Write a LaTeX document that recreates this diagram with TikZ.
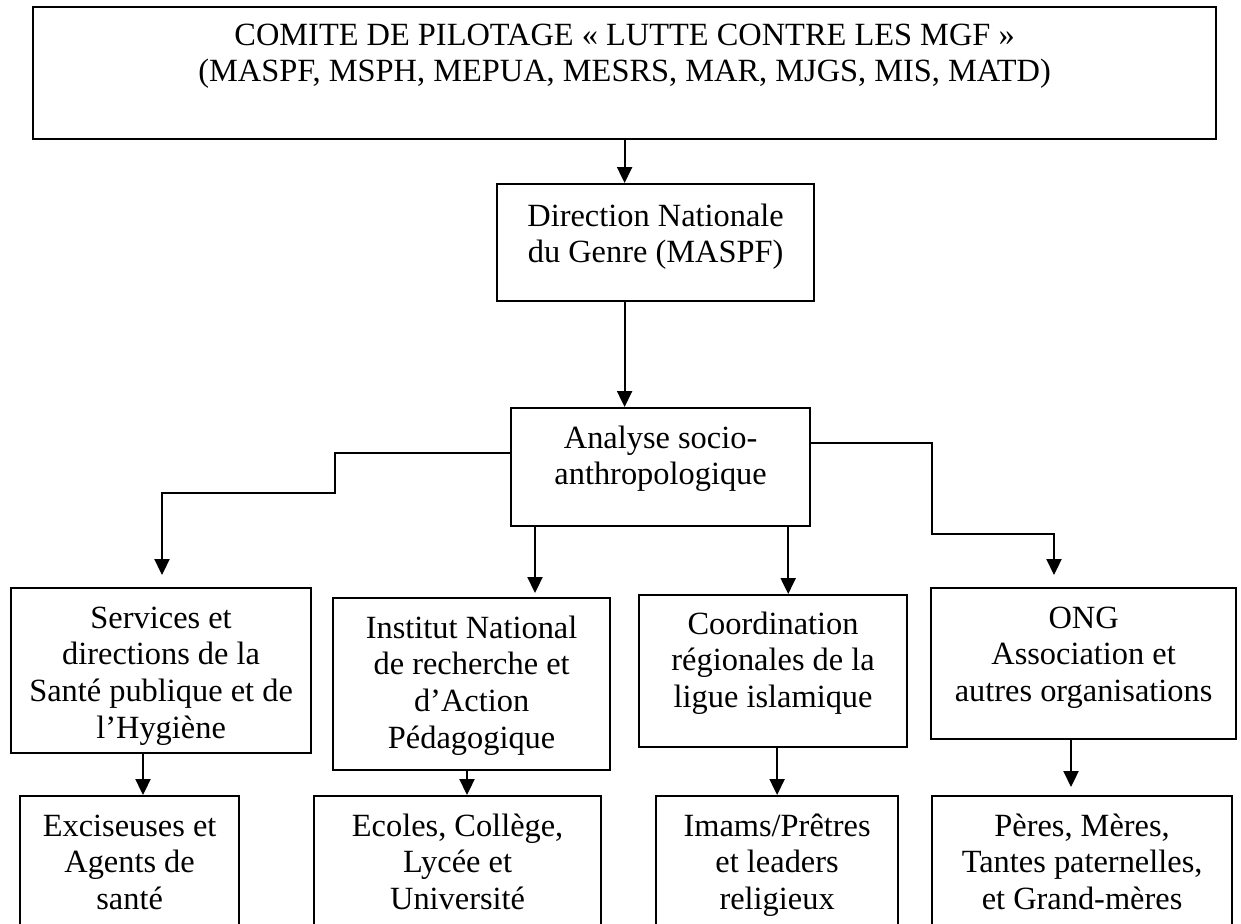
\documentclass[tikz,border=0pt]{standalone}
\usepackage{fontspec}
\setmainfont{Liberation Serif}
\usetikzlibrary{arrows.meta,calc}
\newcommand{\boxtext}[4]{\parbox[c][#2\unitlength][t]{#1\unitlength}{\centering\rule{0pt}{#3\unitlength}#4}}
\setlength{\unitlength}{0.5pt}
\tikzset{
  orgbox/.style={draw, line width=1.1pt, inner sep=0pt, anchor=north west,
    font=\fontsize{16.2}{18.4}\selectfont},
  arr/.style={line width=1.1pt, -{Triangle[length=8pt,width=7.5pt]}}
}
\begin{document}
\begin{tikzpicture}[x=0.5pt,y=-0.5pt]
\useasboundingbox (0,0) rectangle (1241,923);
\clip (0,0) rectangle (1241,923);
\fill[white] (0,0) rectangle (1241,923);
% boxes
\node[orgbox] (top) at (32,6) {\boxtext{1183}{132}{38}{COMITE DE PILOTAGE « LUTTE CONTRE LES MGF »\\(MASPF, MSPH, MEPUA, MESRS, MAR, MJGS, MIS, MATD)}};
\node[orgbox] (dir) at (496,183) {\boxtext{317}{117}{42}{Direction Nationale\\du Genre (MASPF)}};
\node[orgbox] (ana) at (510,407) {\boxtext{299}{118}{40}{Analyse socio-\\anthropologique}};
\node[orgbox] (svc) at (10,587) {\boxtext{300}{165}{40}{Services et\\directions de la\\Santé publique et de\\l’Hygiène}};
\node[orgbox] (inst) at (332,597) {\boxtext{277}{172}{40}{Institut National\\de recherche et\\d’Action\\Pédagogique}};
\node[orgbox] (coord) at (638,594) {\boxtext{268}{152}{39}{Coordination\\régionales de la\\ligue islamique}};
\node[orgbox] (ong) at (930,587) {\boxtext{305}{151}{40}{ONG\\Association et\\autres organisations}};
\node[orgbox] (exc) at (19,795) {\boxtext{219}{150}{40}{Exciseuses et\\Agents de\\santé}};
\node[orgbox] (eco) at (313,795) {\boxtext{287}{150}{40}{Ecoles, Collège,\\Lycée et\\Université}};
\node[orgbox] (ima) at (655,795) {\boxtext{242}{150}{40}{Imams/Prêtres\\et leaders\\religieux}};
\node[orgbox] (per) at (931,795) {\boxtext{300}{150}{40}{Pères, Mères,\\Tantes paternelles,\\et Grand-mères}};
% coordinates for connectors
\coordinate (la) at (335,453);
\coordinate (lb) at (162,493);
\coordinate (ra) at (932,443);
\coordinate (rb) at (1054,534);
\coordinate (m1) at ($(ana.south west)+(25,0)$);
\coordinate (m2) at ($(ana.south east)+(-23,0)$);
\coordinate (e1) at ($(exc.north west)+(124,0)$);
\coordinate (e2) at ($(eco.north west)+(154,0)$);
\coordinate (e4) at ($(per.north west)+(140,0)$);
% connectors
\draw[arr] (top.south) -- (top.south |- dir.north);
\draw[arr] (top.south |- dir.south) -- (top.south |- ana.north);
\draw[arr, shorten >=6pt] (la -| ana.west) -- (la) |- (lb) -- (lb |- svc.north);
\draw[arr, shorten >=6pt] (ra -| ana.east) -- (ra) |- (rb) -- (rb |- ong.north);
\draw[arr, shorten >=2pt] (m1) -- (m1 |- inst.north);
\draw[arr] (m2) -- (m2 |- coord.north);
\draw[arr] (e1 |- svc.south) -- (e1);
\draw[arr] (e2 |- inst.south) -- (e2);
\draw[arr] (ima.north |- coord.south) -- (ima.north);
\draw[arr, shorten >=4pt] (e4 |- ong.south) -- (e4);
\end{tikzpicture}
\end{document}
